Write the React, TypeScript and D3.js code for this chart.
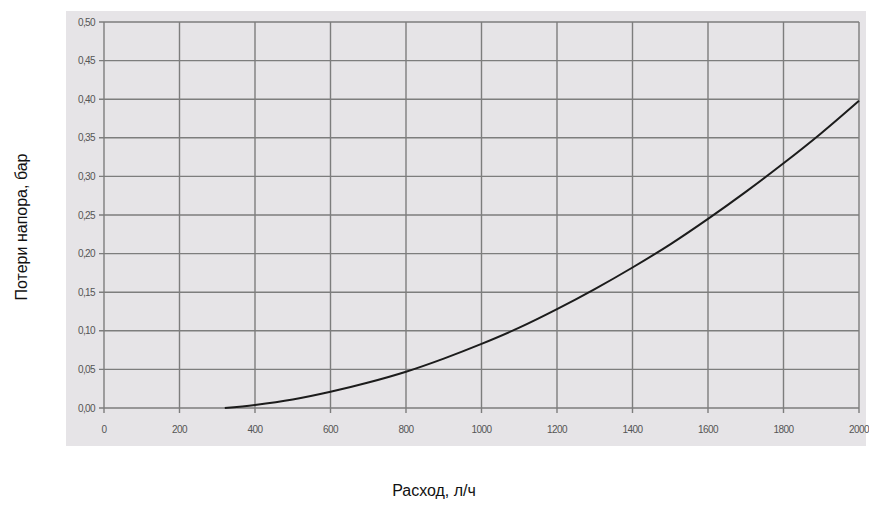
import * as d3 from "d3";
import {useEffect, useRef} from "react";

const WIDTH = 869;
const HEIGHT = 511;
// plot area in pixels (inside the grey panel)
const PLOT = {left: 104, right: 859, top: 22, bottom: 408};

// flow rate, l/h
const flow = [320, 400, 500, 600, 700, 800, 900, 1000, 1100, 1200, 1300, 1400, 1500, 1600, 1700, 1800, 1900, 2000];
// pressure loss, bar
const loss = [0, 0.004, 0.011, 0.021, 0.033, 0.047, 0.064, 0.083, 0.104, 0.128, 0.154, 0.182, 0.212, 0.245, 0.28, 0.317, 0.356, 0.398];

const xTicks = [0, 200, 400, 600, 800, 1000, 1200, 1400, 1600, 1800, 2000];
const yTicks = [0, 0.05, 0.1, 0.15, 0.2, 0.25, 0.3, 0.35, 0.4, 0.45, 0.5];

const App = () => {
    const ref = useRef<SVGSVGElement>(null);

    useEffect(() => {
        const svg = d3.select(ref.current);
        svg.selectAll("*").remove();

        const x = d3.scaleLinear().domain([0, 2000]).range([PLOT.left, PLOT.right]);
        const y = d3.scaleLinear().domain([0, 0.5]).range([PLOT.bottom, PLOT.top]);

        // grey panel
        svg.append("rect")
            .attr("x", 66).attr("y", 11)
            .attr("width", 800).attr("height", 435)
            .attr("fill", "#e6e4e7");

        const grid = svg.append("g")
            .attr("stroke", "#7d7d7d")
            .attr("stroke-width", 1.4);

        // horizontal grid with small tick marks on the left
        grid.selectAll("line.h")
            .data(yTicks)
            .join("line")
            .attr("class", "h")
            .attr("x1", PLOT.left - 5)
            .attr("x2", PLOT.right)
            .attr("y1", d => y(d))
            .attr("y2", d => y(d));

        // vertical grid with small tick marks below
        grid.selectAll("line.v")
            .data(xTicks)
            .join("line")
            .attr("class", "v")
            .attr("x1", d => x(d))
            .attr("x2", d => x(d))
            .attr("y1", PLOT.top)
            .attr("y2", PLOT.bottom + 5);

        const labels = svg.append("g")
            .attr("font-family", "Arial, 'Liberation Sans', sans-serif")
            .attr("font-size", 10)
            .attr("fill", "#555");

        labels.selectAll("text.y")
            .data(yTicks)
            .join("text")
            .attr("class", "y")
            .attr("x", PLOT.left - 9)
            .attr("y", d => y(d) + 3.5)
            .attr("text-anchor", "end")
            .attr("letter-spacing", -0.6)
            .text(d => d3.format(".2f")(d).replace(".", ","));

        labels.selectAll("text.x")
            .data(xTicks)
            .join("text")
            .attr("class", "x")
            .attr("x", d => x(d))
            .attr("y", 433)
            .attr("text-anchor", "middle")
            .attr("letter-spacing", -0.6)
            .text(d => d);

        // the curve
        const line = d3.line<number>()
            .x((d, i) => x(flow[i]))
            .y(d => y(d))
            .curve(d3.curveCatmullRom.alpha(0.5));

        svg.append("path")
            .datum(loss)
            .attr("d", line)
            .attr("fill", "none")
            .attr("stroke", "#1c1c1c")
            .attr("stroke-width", 2);

        // axis titles
        svg.append("text")
            .attr("transform", `translate(27,${(PLOT.top + PLOT.bottom) / 2 + 12}) rotate(-90)`)
            .attr("text-anchor", "middle")
            .attr("font-family", "Arial, 'Liberation Sans', sans-serif")
            .attr("font-size", 16)
            .attr("fill", "#111")
            .text("Потери напора, бар");

        svg.append("text")
            .attr("x", 434)
            .attr("y", 496)
            .attr("text-anchor", "middle")
            .attr("font-family", "Arial, 'Liberation Sans', sans-serif")
            .attr("font-size", 16)
            .attr("fill", "#111")
            .text("Расход, л/ч");
    }, []);

    return (
        <svg ref={ref} width={WIDTH} height={HEIGHT}
             style={{position: "absolute", left: 0, top: 0, background: "#fff"}}/>
    );
};

export default App;
